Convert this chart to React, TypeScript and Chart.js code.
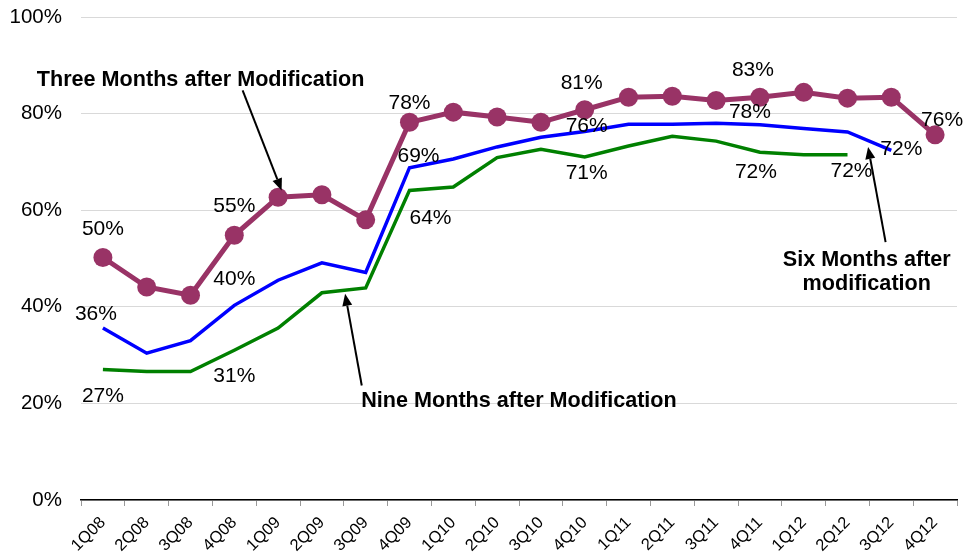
import React, { useEffect, useRef } from 'react';
import { Chart, registerables } from 'chart.js';

Chart.register(...registerables);

const quarters = ['1Q08', '2Q08', '3Q08', '4Q08', '1Q09', '2Q09', '3Q09', '4Q09', '1Q10', '2Q10', '3Q10', '4Q10', '1Q11', '2Q11', '3Q11', '4Q11', '1Q12', '2Q12', '3Q12', '4Q12'];
const threeMonths = [50.2, 44.1, 42.4, 54.8, 62.7, 63.2, 58.0, 78.2, 80.3, 79.3, 78.2, 80.8, 83.4, 83.6, 82.7, 83.4, 84.4, 83.2, 83.4, 75.6];
const sixMonths = [35.6, 30.4, 33.0, 40.3, 45.5, 49.1, 47.1, 68.8, 70.6, 73.1, 75.1, 76.3, 77.8, 77.8, 78.0, 77.7, 76.9, 76.2, 72.4, null];
const nineMonths = [27.0, 26.6, 26.6, 31.0, 35.6, 42.9, 43.9, 64.1, 64.8, 70.9, 72.6, 71.0, 73.3, 75.3, 74.3, 72.0, 71.5, 71.5, null, null];
const yTicks = [0, 20, 40, 60, 80, 100];

// which points carry a value label, per series
const threeLabelIdx = [0, 3, 7, 11, 15, 19];
const sixLabelIdx = [0, 3, 7, 11, 15, 18];
const nineLabelIdx = [0, 3, 7, 11, 15, 17];

const FONT = "'Liberation Sans', Arial, sans-serif";

// label placement (pixel offsets from the point)
const labelOffsets: Record<string, [number, number][]> = {
  three: [[0, -28], [0, -29], [0, -19], [-3, -27], [-7, -27], [7, -15]],
  six: [[-7, -14], [0, -26], [9, -11], [2, -5], [-10, -13], [10, -1]],
  nine: [[0, 27], [0, 26], [21, 28], [2, 16], [-4, 20], [4, 17]],
};

// annotation positions in data units (category index, percent)
const annotations = [
  { lines: ['Three Months after Modification'], x: 2.23, y: 87.0, from: [3.19, 84.8], to: [4.08, 64.1] },
  { lines: ['Nine Months after Modification'], x: 9.5, y: 20.4, from: [5.91, 23.7], to: [5.53, 42.7] },
  { lines: ['Six Months after', 'modification'], x: 17.44, y: 49.6, from: [17.87, 53.4], to: [17.47, 73.1] },
];

const valueLabelPlugin = {
  id: 'valueLabels',
  afterDatasetsDraw(chart: any) {
    const ctx = chart.ctx;
    const keys = ['nine', 'six', 'three'];
    const idxs = [nineLabelIdx, sixLabelIdx, threeLabelIdx];
    ctx.save();
    ctx.font = `21px ${FONT}`;
    ctx.fillStyle = '#000';
    ctx.textAlign = 'center';
    ctx.textBaseline = 'middle';
    chart.data.datasets.forEach((ds: any, di: number) => {
      const meta = chart.getDatasetMeta(di);
      const list = idxs[di];
      const offs = labelOffsets[keys[di]];
      list.forEach((idx: number, k: number) => {
        const el = meta.data[idx];
        const v = ds.data[idx];
        if (!el || v == null) return;
        ctx.fillText(Math.round(v) + '%', el.x + offs[k][0], el.y + offs[k][1]);
      });
    });
    ctx.restore();
  },
};

const annotationPlugin = {
  id: 'arrowNotes',
  afterDraw(chart: any) {
    const ctx = chart.ctx;
    const xs = chart.scales.x;
    const ys = chart.scales.y;
    ctx.save();
    ctx.font = `bold 21.6px ${FONT}`;
    ctx.fillStyle = '#000';
    ctx.strokeStyle = '#000';
    ctx.textAlign = 'center';
    ctx.textBaseline = 'middle';
    annotations.forEach((a) => {
      const tx = xs.getPixelForValue(a.x);
      const ty = ys.getPixelForValue(a.y);
      a.lines.forEach((line, i) => ctx.fillText(line, tx, ty + i * 24));
      const x1 = xs.getPixelForValue(a.from[0]);
      const y1 = ys.getPixelForValue(a.from[1]);
      const x2 = xs.getPixelForValue(a.to[0]);
      const y2 = ys.getPixelForValue(a.to[1]);
      const ang = Math.atan2(y2 - y1, x2 - x1);
      const hl = 12;
      const hw = 5;
      const bx = x2 - hl * Math.cos(ang);
      const by = y2 - hl * Math.sin(ang);
      ctx.lineWidth = 2;
      ctx.beginPath();
      ctx.moveTo(x1, y1);
      ctx.lineTo(bx, by);
      ctx.stroke();
      ctx.beginPath();
      ctx.moveTo(x2, y2);
      ctx.lineTo(bx + hw * Math.sin(ang), by - hw * Math.cos(ang));
      ctx.lineTo(bx - hw * Math.sin(ang), by + hw * Math.cos(ang));
      ctx.closePath();
      ctx.fill();
    });
    ctx.restore();
  },
};

export default function App() {
  const ref = useRef<HTMLCanvasElement>(null);
  useEffect(() => {
    if (!ref.current) return;
    const chart = new Chart(ref.current, {
      type: 'line',
      data: {
        labels: quarters,
        datasets: [
          {
            label: 'Nine Months after Modification',
            data: nineMonths,
            borderColor: '#008000',
            borderWidth: 3.5,
            pointRadius: 0,
            tension: 0,
            spanGaps: false,
          },
          {
            label: 'Six Months after modification',
            data: sixMonths,
            borderColor: '#0000FF',
            borderWidth: 3.5,
            pointRadius: 0,
            tension: 0,
          },
          {
            label: 'Three Months after Modification',
            data: threeMonths,
            borderColor: '#993366',
            backgroundColor: '#993366',
            borderWidth: 5,
            pointRadius: 9.5,
            pointBackgroundColor: '#993366',
            pointBorderWidth: 0,
            tension: 0,
          },
        ],
      },
      options: {
        animation: false,
        responsive: false,
        layout: { padding: { left: 0, right: 17, top: 17, bottom: 0 } },
        plugins: { legend: { display: false }, tooltip: { enabled: false } },
        scales: {
          x: {
            offset: true,
            grid: { display: true, drawOnChartArea: false, offset: true, color: '#999', tickLength: 6 },
            border: { display: true, color: '#000', width: 1.5 },
            ticks: { color: '#000', font: { family: FONT, size: 16.5 }, minRotation: 45, maxRotation: 45, padding: 7 },
            afterFit: (s: any) => { s.height = 60; s.paddingLeft = 0; s.paddingRight = 0; },
          },
          y: {
            min: 0,
            max: 100,
            afterBuildTicks: (s: any) => { s.ticks = yTicks.map((v) => ({ value: v })); },
            grid: { color: '#d9d9d9', drawTicks: false, lineWidth: 1 },
            border: { display: false },
            ticks: { color: '#000', font: { family: FONT, size: 20.5 }, padding: 19, callback: (v: any) => v + '%' },
            afterFit: (s: any) => { s.width = 81; s.paddingTop = 0; s.paddingBottom = 0; },
          },
        },
      },
      plugins: [valueLabelPlugin, annotationPlugin],
    });
    return () => chart.destroy();
  }, []);
  return (
    <div style={{ position: 'fixed', left: 0, top: 0, width: 974, height: 560, background: '#fff' }}>
      <canvas ref={ref} width={974} height={560} style={{ width: 974, height: 560, display: 'block' }} />
    </div>
  );
}
